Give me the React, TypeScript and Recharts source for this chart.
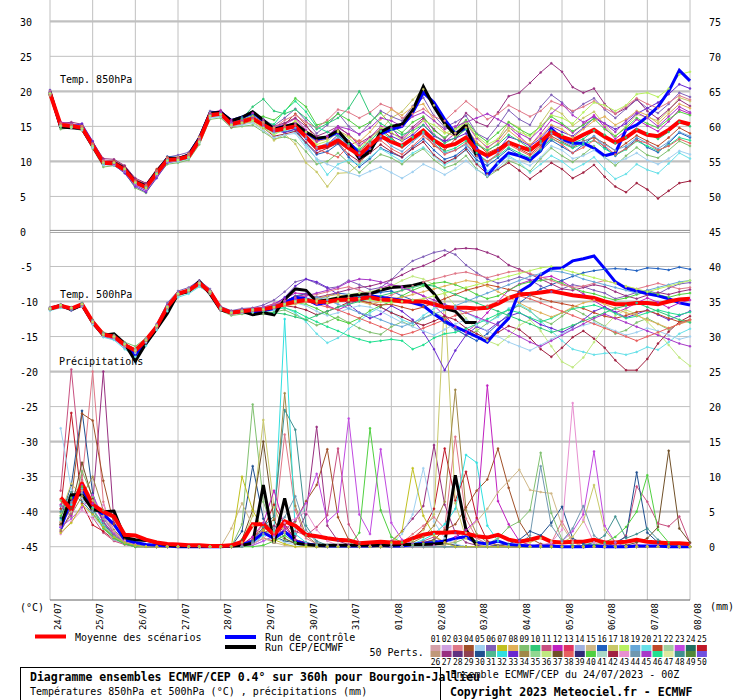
import React from 'react';
import { LineChart, Line, XAxis, YAxis, ReferenceLine } from 'recharts';

const FONT = '"DejaVu Sans Mono", "Liberation Mono", monospace';

// time axis: 24/07/2023 00Z + 0..360h, every 6h
const HOURS = [
  0, 6, 12, 18, 24, 30, 36, 42, 48, 54, 60, 66, 72, 78, 84, 90, 96, 102, 108, 114,
  120, 126, 132, 138, 144, 150, 156, 162, 168, 174, 180, 186, 192, 198, 204, 210, 216, 222, 228, 234,
  240, 246, 252, 258, 264, 270, 276, 282, 288, 294, 300, 306, 312, 318, 324, 330, 336, 342, 348, 354, 360,
];
const DAY_TICKS = [0, 24, 48, 72, 96, 120, 144, 168, 192, 216, 240, 264, 288, 312, 336, 360];
const DAY_LABELS = ['24/07', '25/07', '26/07', '27/07', '28/07', '29/07', '30/07', '31/07', '01/08', '02/08', '03/08', '04/08', '05/08', '06/08', '07/08', '08/08'];
const LEFT_TICKS = [30, 25, 20, 15, 10, 5, 0, -5, -10, -15, -20, -25, -30, -35, -40, -45];
const RIGHT_TICKS = [75, 70, 65, 60, 55, 50, 45, 40, 35, 30, 25, 20, 15, 10, 5, 0];

// Temp 850hPa (°C)
const T850_MEAN = [
  19.7, 15.2, 15.05, 14.8, 12.3, 9.8, 9.7, 8.8, 7.0, 6.3,
  8.3, 10.2, 10.3, 10.7, 13.0, 16.6, 16.8, 15.3, 15.7, 16.1,
  15.2, 14.4, 14.7, 15.0, 13.5, 11.9, 12.2, 13.0, 11.9, 10.9,
  12.3, 13.6, 12.8, 12.2, 13.3, 14.4, 13.0, 12.1, 12.5, 13.4,
  11.6, 10.8, 11.6, 12.7, 12.1, 11.6, 12.8, 14.2, 13.5, 13.0,
  13.8, 14.5, 13.5, 12.7, 13.4, 14.5, 13.8, 13.6, 14.5, 15.7, 15.3,
];
const T850_CTRL = [
  19.8, 15.0, 14.9, 14.7, 12.2, 9.7, 9.8, 9.0, 7.1, 6.5,
  8.5, 10.4, 10.4, 10.9, 13.3, 16.9, 17.0, 15.8, 16.3, 17.0,
  15.8, 14.6, 15.0, 15.3, 14.1, 13.2, 13.4, 14.2, 12.7, 11.2,
  11.6, 13.9, 14.6, 15.0, 17.0, 19.8, 18.4, 16.0, 14.0, 14.8,
  11.9, 8.0, 9.8, 11.2, 10.8, 10.2, 11.5, 14.7, 13.2, 12.6,
  12.6, 11.9, 10.8, 11.2, 14.5, 15.2, 16.4, 17.8, 20.0, 23.0, 21.5,
];
const T850_CEP = [
  20.0, 14.9, 14.8, 14.7, 12.2, 9.7, 9.8, 9.0, 7.1, 6.5,
  8.5, 10.4, 10.4, 10.9, 13.3, 16.9, 17.0, 15.8, 16.3, 17.1,
  15.9, 14.6, 15.0, 15.4, 14.2, 13.3, 13.5, 14.4, 12.6, 10.4,
  11.4, 14.2, 15.0, 15.3, 17.3, 20.7, 17.8, 15.4, 13.8, 15.2, 10.7,
];
const T850_MEMBERS = [
  [20.2, 15.0, 15.3, 15.2, 12.0, 9.5, 9.9, 9.2, 7.3, 6.6, 8.8, 10.6, 10.9, 11.3, 13.6, 17.2, 17.0, 15.0, 16.0, 16.8, 16.0, 15.1, 16.2, 17.5, 15.8, 14.0, 15.2, 16.9, 15.0, 13.8, 15.5, 17.2, 16.4, 15.8, 17.9, 19.1, 16.5, 14.9, 15.6, 16.5, 14.0, 13.2, 15.1, 17.3, 16.0, 15.2, 17.8, 19.5, 18.4, 17.0, 18.2, 19.0, 17.4, 16.2, 17.5, 18.8, 17.6, 16.9, 18.2, 19.8, 19.2],
  [19.4, 14.6, 14.8, 14.4, 11.8, 9.2, 9.4, 8.4, 6.2, 5.5, 7.8, 9.6, 9.8, 10.2, 12.4, 16.0, 16.2, 14.8, 15.0, 15.2, 14.2, 13.2, 13.5, 13.0, 11.4, 9.6, 10.0, 11.2, 9.8, 8.4, 9.8, 11.0, 10.5, 9.6, 10.9, 11.8, 10.2, 9.1, 9.6, 10.8, 8.9, 7.8, 8.8, 10.1, 9.5, 8.6, 10.4, 11.9, 10.8, 9.9, 11.0, 12.2, 10.6, 9.4, 10.8, 12.0, 10.9, 10.5, 11.6, 12.9, 12.2],
  [19.9, 15.6, 15.4, 15.0, 12.7, 10.2, 10.0, 9.0, 6.9, 6.0, 8.0, 10.0, 10.5, 11.0, 13.3, 16.9, 17.3, 15.9, 16.2, 16.9, 15.8, 14.9, 15.3, 16.1, 14.5, 12.9, 13.6, 14.8, 13.9, 12.2, 13.4, 15.0, 14.8, 13.1, 14.6, 15.9, 13.8, 12.8, 14.0, 15.5, 13.3, 12.0, 13.0, 14.9, 13.6, 12.2, 14.0, 15.9, 15.2, 14.1, 15.3, 16.6, 14.9, 13.2, 14.4, 16.0, 15.1, 14.3, 15.7, 17.4, 16.8],
  [19.6, 15.3, 15.0, 14.9, 12.5, 10.0, 9.8, 9.0, 7.2, 6.5, 8.6, 10.7, 10.6, 10.9, 13.4, 17.0, 17.1, 15.6, 16.3, 16.6, 15.4, 14.6, 14.2, 14.6, 12.6, 11.0, 11.4, 12.5, 10.6, 9.2, 10.4, 11.9, 11.2, 10.6, 12.0, 13.2, 11.6, 10.3, 10.8, 12.0, 10.2, 9.4, 10.5, 11.8, 10.9, 10.0, 11.5, 13.0, 12.1, 11.2, 12.4, 13.6, 12.0, 10.8, 11.9, 13.2, 12.0, 11.3, 12.6, 14.1, 13.4],
  [19.8, 15.1, 15.2, 14.6, 12.2, 9.9, 9.6, 8.6, 6.8, 6.2, 8.2, 10.0, 10.2, 10.8, 13.2, 16.4, 16.6, 15.2, 15.4, 15.6, 14.6, 13.0, 13.9, 12.5, 9.8, 8.5, 6.4, 8.3, 8.4, 9.6, 11.8, 14.5, 16.2, 17.1, 18.8, 20.3, 18.0, 15.2, 14.1, 15.8, 13.5, 11.8, 13.2, 15.6, 14.8, 13.0, 15.4, 17.6, 16.8, 15.1, 16.2, 17.1, 15.2, 13.6, 15.0, 16.7, 16.3, 15.8, 17.2, 19.1, 18.6],
  [19.5, 15.0, 14.9, 14.7, 12.1, 9.6, 9.4, 8.5, 6.6, 5.9, 8.0, 9.9, 10.0, 10.4, 12.7, 16.3, 16.4, 15.1, 15.5, 15.8, 14.9, 14.0, 14.4, 14.2, 12.4, 10.3, 8.1, 9.6, 10.2, 9.5, 10.6, 11.8, 10.9, 10.0, 11.2, 12.0, 10.8, 9.5, 10.4, 11.6, 9.8, 8.6, 9.7, 10.8, 9.9, 8.4, 9.6, 10.8, 10.0, 8.8, 9.6, 10.6, 8.9, 7.5, 8.2, 9.6, 8.8, 8.3, 9.7, 11.2, 10.4],
  [19.7, 15.5, 15.2, 15.1, 12.6, 10.0, 10.1, 9.3, 7.4, 6.8, 8.9, 10.6, 10.5, 11.1, 13.5, 16.7, 16.5, 14.9, 15.3, 15.9, 15.0, 14.2, 15.3, 16.8, 15.2, 13.0, 13.4, 14.2, 12.9, 11.5, 12.8, 14.6, 13.4, 12.0, 13.3, 14.1, 12.2, 11.6, 13.2, 14.8, 12.6, 11.2, 11.9, 12.8, 11.8, 11.0, 12.3, 13.6, 12.8, 12.0, 12.9, 13.4, 12.6, 11.5, 12.6, 13.7, 12.9, 12.2, 13.4, 14.8, 14.0],
  [19.9, 15.4, 15.6, 15.3, 12.8, 10.4, 10.3, 9.4, 7.6, 6.9, 8.5, 10.4, 10.4, 10.9, 13.1, 16.8, 17.2, 15.6, 16.0, 16.4, 15.7, 15.0, 15.5, 16.2, 15.0, 13.6, 14.2, 15.0, 13.8, 12.6, 13.5, 14.6, 14.0, 13.4, 14.9, 16.2, 14.6, 13.2, 14.8, 16.9, 15.6, 15.0, 17.0, 19.3, 19.8, 21.2, 22.7, 24.0, 22.8, 20.6, 19.8, 20.4, 18.2, 16.8, 17.6, 18.9, 17.2, 16.1, 17.4, 18.8, 17.9],
  [20.1, 15.1, 15.0, 15.4, 12.9, 10.1, 9.5, 8.3, 6.4, 5.6, 7.6, 9.8, 10.1, 10.5, 12.8, 16.5, 16.9, 15.4, 15.8, 16.3, 15.6, 14.5, 14.1, 14.6, 13.2, 11.6, 12.4, 13.8, 12.2, 10.6, 11.9, 13.2, 13.6, 12.9, 13.8, 15.2, 13.6, 12.9, 13.3, 14.0, 11.8, 10.6, 11.6, 13.5, 13.0, 12.2, 13.3, 15.0, 14.2, 13.6, 14.8, 16.2, 15.4, 14.6, 15.4, 16.8, 17.6, 18.4, 19.6, 21.0, 20.4],
  [19.6, 14.9, 15.3, 14.9, 12.4, 9.7, 9.9, 8.9, 7.1, 6.4, 8.4, 10.3, 10.4, 10.6, 12.9, 16.6, 16.7, 15.4, 15.9, 16.5, 16.4, 15.9, 17.1, 19.0, 17.8, 15.2, 15.6, 16.8, 15.9, 14.8, 15.6, 16.9, 15.2, 14.1, 15.6, 16.4, 14.4, 13.4, 14.6, 15.9, 13.9, 12.8, 14.1, 15.6, 14.6, 13.8, 15.0, 16.4, 15.4, 14.3, 15.2, 16.1, 14.6, 13.6, 14.8, 16.2, 15.4, 14.8, 16.0, 17.1, 16.6],
  [19.8, 15.3, 14.9, 14.6, 12.2, 9.9, 9.8, 8.7, 6.9, 6.1, 8.1, 10.1, 10.4, 10.8, 13.0, 16.6, 16.9, 15.4, 15.6, 15.9, 14.8, 13.6, 13.9, 14.3, 12.7, 11.2, 11.9, 12.6, 11.0, 10.0, 11.2, 12.4, 11.4, 10.6, 11.8, 12.8, 10.9, 9.8, 10.5, 11.7, 9.6, 8.2, 8.9, 9.8, 8.7, 7.5, 8.6, 9.8, 8.9, 7.6, 8.4, 9.5, 7.8, 6.4, 5.6, 6.9, 6.0, 4.7, 5.8, 6.9, 7.2],
  [19.7, 15.2, 15.1, 14.7, 12.3, 9.8, 9.7, 8.8, 7.0, 6.3, 8.3, 10.1, 10.2, 10.6, 13.1, 16.7, 16.8, 15.2, 15.7, 16.2, 15.5, 15.3, 17.2, 18.6, 17.1, 14.9, 14.2, 13.6, 12.5, 11.7, 13.0, 14.3, 13.2, 12.3, 13.5, 14.2, 12.9, 11.4, 11.9, 12.9, 11.2, 10.0, 10.8, 12.0, 11.2, 10.5, 11.8, 13.2, 12.6, 11.9, 12.5, 13.0, 11.8, 10.9, 11.7, 12.9, 12.2, 11.5, 12.3, 13.4, 13.0],
  [19.5, 15.4, 15.0, 14.9, 12.4, 9.9, 9.6, 8.7, 6.8, 6.0, 8.1, 10.2, 10.4, 10.6, 12.8, 16.4, 16.9, 15.5, 15.9, 16.0, 15.2, 14.8, 15.9, 16.6, 15.6, 14.8, 15.9, 17.4, 17.0, 16.2, 17.0, 18.2, 17.6, 16.2, 16.8, 17.5, 16.4, 15.8, 17.2, 18.6, 17.4, 16.0, 16.8, 18.0, 17.2, 16.4, 17.2, 18.6, 18.0, 17.2, 17.8, 18.6, 17.6, 16.8, 17.9, 19.0, 18.2, 17.6, 18.4, 19.4, 18.8],
  [19.6, 15.1, 14.8, 14.5, 12.0, 9.5, 9.5, 8.6, 6.7, 5.9, 8.0, 9.9, 10.1, 10.5, 12.7, 16.2, 16.4, 15.0, 15.2, 15.5, 14.4, 13.4, 13.8, 14.0, 12.0, 10.4, 9.6, 9.0, 8.4, 7.9, 8.6, 9.2, 8.4, 7.6, 8.5, 9.6, 8.9, 8.1, 9.0, 10.1, 8.8, 8.0, 9.1, 10.5, 10.0, 9.4, 10.6, 12.2, 11.6, 10.4, 10.8, 11.6, 10.5, 9.8, 10.4, 11.2, 10.2, 9.6, 10.4, 11.5, 11.0],
  [20.0, 15.3, 15.2, 15.0, 12.5, 10.1, 9.9, 9.0, 7.1, 6.5, 8.6, 10.5, 10.6, 11.0, 13.4, 16.9, 16.9, 15.3, 15.8, 16.4, 15.6, 14.8, 15.0, 15.6, 14.2, 12.8, 13.2, 14.4, 13.6, 12.8, 14.2, 16.0, 17.4, 16.6, 17.8, 18.2, 15.9, 14.2, 13.6, 14.8, 12.8, 11.4, 12.6, 14.4, 13.2, 12.4, 13.6, 15.2, 14.6, 13.4, 14.6, 15.8, 16.4, 15.2, 16.0, 17.2, 16.6, 15.4, 16.8, 18.2, 17.6],
  [19.8, 15.2, 15.1, 14.8, 12.4, 9.9, 9.8, 8.8, 7.0, 6.3, 8.3, 10.2, 10.3, 10.8, 13.1, 16.7, 16.8, 15.4, 16.1, 17.8, 18.9, 17.2, 16.8, 17.4, 16.2, 14.6, 15.4, 16.2, 17.6, 20.0, 16.8, 15.4, 14.6, 13.8, 14.4, 15.2, 13.8, 12.6, 13.4, 14.6, 12.4, 11.6, 12.4, 13.8, 12.9, 11.8, 12.9, 14.4, 13.8, 12.6, 13.2, 14.4, 13.8, 12.6, 13.4, 14.6, 14.0, 13.2, 14.2, 15.6, 15.0],
  [19.7, 15.0, 15.0, 14.7, 12.2, 9.7, 9.7, 8.8, 7.0, 6.4, 8.4, 10.3, 10.3, 10.6, 12.9, 16.6, 16.7, 15.3, 15.6, 15.9, 14.9, 14.2, 14.6, 14.8, 13.3, 12.0, 12.6, 13.4, 12.2, 11.2, 12.6, 13.6, 12.2, 11.4, 12.8, 14.0, 12.6, 11.2, 11.6, 12.4, 10.6, 9.8, 11.2, 12.6, 12.0, 11.4, 12.6, 14.0, 13.0, 12.2, 12.8, 13.6, 12.4, 11.6, 12.2, 13.4, 12.6, 11.8, 12.8, 14.2, 13.6],
  [19.9, 15.2, 15.3, 14.8, 12.3, 9.8, 9.6, 8.6, 6.6, 5.8, 7.9, 10.0, 10.4, 10.8, 13.2, 16.8, 17.0, 15.6, 15.8, 16.2, 15.0, 14.4, 14.9, 15.4, 14.1, 12.8, 13.6, 15.0, 14.6, 13.9, 14.8, 16.2, 15.8, 15.0, 16.4, 17.0, 15.8, 14.6, 15.0, 15.6, 16.2, 16.8, 16.0, 15.2, 14.0, 13.2, 14.6, 16.8, 18.2, 16.6, 15.6, 16.4, 15.4, 14.2, 15.8, 17.0, 16.2, 15.0, 16.4, 17.8, 17.0],
  [19.6, 15.4, 15.2, 14.9, 12.5, 10.0, 9.9, 9.0, 7.2, 6.6, 8.6, 10.5, 10.5, 10.9, 13.1, 16.5, 16.6, 15.2, 15.6, 16.0, 15.4, 14.6, 14.9, 15.2, 13.6, 11.8, 11.2, 10.6, 12.2, 13.0, 12.4, 13.0, 11.8, 11.0, 12.2, 13.6, 12.4, 11.0, 11.6, 12.6, 10.8, 10.0, 11.0, 12.4, 11.6, 10.8, 12.0, 13.4, 12.4, 11.2, 12.0, 13.0, 12.2, 11.0, 11.8, 13.0, 12.6, 11.6, 12.2, 13.2, 12.6],
  [19.7, 15.1, 14.9, 14.7, 12.2, 9.8, 9.8, 8.9, 7.0, 6.2, 8.2, 10.1, 10.2, 10.6, 12.8, 16.5, 16.7, 15.2, 15.5, 15.8, 14.8, 13.8, 14.6, 15.8, 14.2, 12.4, 12.9, 14.2, 13.4, 12.0, 13.2, 14.8, 14.2, 13.0, 14.2, 15.8, 15.2, 14.0, 14.6, 15.4, 13.6, 12.4, 13.2, 14.8, 14.2, 13.6, 15.0, 16.6, 16.2, 15.4, 17.0, 18.4, 18.0, 17.2, 18.0, 19.6, 19.8, 19.2, 20.4, 22.4, 22.8],
];
const T850_COLORS = ['#8060b8', '#80c070', '#c020c0', '#2060c0', '#c8c868', '#68e0e8', '#c04828', '#983080', '#6828d0', '#50d040', '#a02040', '#20e090', '#e07888', '#a0d0f0', '#e0b058', '#30c878', '#68a8d8', '#a838c8', '#e86060', '#b8f060'];

// Temp 500hPa (°C)
const T500_MEAN = [
  -11.0, -10.6, -11.0, -10.4, -12.9, -14.7, -15.0, -16.2, -17.0, -15.5,
  -13.6, -10.8, -8.9, -8.4, -7.4, -8.6, -11.0, -11.6, -11.4, -11.2,
  -11.1, -10.8, -10.4, -10.0, -9.8, -10.1, -10.0, -9.8, -9.7, -9.6,
  -9.4, -9.7, -9.8, -10.0, -10.0, -10.0, -10.4, -10.8, -10.9, -10.9,
  -11.0, -10.9, -10.3, -9.5, -9.0, -8.9, -8.7, -8.5, -8.8, -9.1,
  -9.3, -9.5, -10.0, -10.4, -10.4, -10.2, -10.2, -10.4, -10.0, -9.7, -9.6,
];
const T500_CTRL = [
  -11.0, -10.6, -11.1, -10.5, -12.9, -14.8, -14.9, -16.1, -17.6, -15.8,
  -13.8, -11.2, -8.9, -8.5, -7.2, -8.8, -11.1, -11.6, -11.4, -11.6,
  -11.3, -11.0, -10.2, -9.4, -9.6, -10.4, -10.1, -9.6, -9.4, -9.8,
  -9.2, -9.4, -9.6, -9.8, -10.2, -10.6, -11.8, -12.8, -13.6, -14.3,
  -15.0, -15.8, -14.0, -12.4, -8.6, -7.7, -6.2, -5.3, -5.2, -4.2,
  -3.9, -3.5, -5.3, -7.2, -8.1, -8.5, -8.9, -9.2, -9.6, -10.2, -10.5,
];
const T500_CEP = [
  -11.1, -10.5, -11.2, -10.5, -13.0, -14.8, -14.6, -16.0, -18.5, -16.0,
  -13.9, -11.7, -8.9, -8.6, -7.1, -8.9, -11.2, -11.6, -11.4, -11.9,
  -11.6, -11.9, -9.7, -8.2, -8.4, -10.0, -9.8, -9.5, -9.2, -9.0,
  -8.9, -8.4, -8.0, -7.9, -7.7, -7.3, -8.9, -11.0, -11.4, -13.0, -13.0,
];
const T500_MEMBERS = [
  [-10.8, -10.4, -11.3, -10.6, -13.2, -14.5, -15.3, -16.6, -17.4, -15.9, -13.2, -10.2, -8.5, -8.0, -7.0, -8.2, -10.7, -11.3, -11.0, -10.9, -10.5, -9.8, -8.6, -7.2, -6.8, -7.4, -8.1, -7.9, -7.0, -7.6, -8.3, -8.0, -6.9, -5.4, -4.2, -3.6, -3.0, -2.7, -3.3, -4.8, -5.9, -6.8, -7.4, -7.0, -6.5, -6.9, -7.8, -8.6, -8.2, -7.6, -7.9, -8.4, -8.8, -9.6, -9.2, -8.7, -8.4, -8.9, -8.1, -7.5, -7.3],
  [-11.2, -10.8, -10.9, -10.2, -12.6, -14.4, -14.8, -15.8, -16.4, -15.2, -13.9, -11.2, -9.2, -8.7, -7.8, -8.9, -11.3, -12.0, -11.8, -11.6, -11.8, -11.5, -11.2, -11.9, -12.6, -13.4, -12.9, -12.2, -13.0, -13.8, -14.4, -14.7, -13.6, -12.9, -13.5, -12.4, -11.6, -12.3, -13.8, -14.9, -14.2, -13.1, -12.0, -11.2, -10.6, -11.4, -12.6, -13.2, -12.1, -11.0, -11.8, -12.7, -13.5, -14.6, -14.1, -13.0, -12.4, -13.2, -14.0, -13.1, -12.6],
  [-11.0, -10.7, -10.8, -10.5, -13.1, -15.0, -15.4, -16.4, -16.9, -15.3, -13.4, -10.6, -8.8, -8.3, -7.5, -8.7, -11.2, -11.8, -11.6, -11.0, -10.8, -10.3, -9.6, -8.8, -8.9, -9.8, -10.6, -11.2, -10.5, -9.6, -8.8, -8.1, -7.6, -7.9, -8.5, -9.2, -10.6, -12.0, -13.6, -14.4, -13.2, -11.6, -10.0, -8.4, -7.5, -7.0, -6.6, -6.4, -7.1, -8.0, -8.9, -9.9, -10.8, -11.6, -11.0, -10.2, -9.5, -10.1, -10.9, -10.2, -9.8],
  [-11.1, -10.5, -11.1, -10.3, -12.8, -14.9, -15.2, -16.3, -17.2, -15.7, -13.8, -11.0, -9.0, -8.6, -7.6, -8.5, -10.9, -11.5, -11.5, -11.4, -11.0, -10.6, -10.0, -9.2, -8.9, -9.5, -9.3, -8.8, -9.0, -9.4, -9.0, -8.7, -8.5, -9.2, -9.8, -10.6, -11.8, -13.0, -14.0, -14.8, -15.6, -14.6, -13.2, -11.8, -10.2, -9.1, -8.2, -7.6, -7.0, -6.4, -5.9, -5.6, -5.4, -5.3, -5.4, -5.6, -5.2, -5.3, -5.5, -5.1, -5.4],
  [-11.3, -10.9, -11.2, -10.7, -13.3, -15.1, -15.5, -16.8, -17.9, -16.3, -14.1, -11.4, -9.4, -8.9, -7.9, -8.8, -11.1, -11.7, -11.6, -11.5, -11.3, -11.2, -10.9, -11.6, -12.9, -14.6, -15.9, -15.2, -13.9, -12.8, -11.6, -10.8, -11.5, -12.6, -13.2, -12.0, -11.0, -10.4, -10.9, -11.6, -12.4, -13.0, -12.2, -11.0, -10.4, -11.3, -12.8, -14.2, -15.6, -16.8, -17.2, -17.6, -17.4, -17.3, -17.6, -17.2, -16.5, -16.9, -15.8, -14.6, -13.9],
  [-10.9, -10.5, -10.9, -10.3, -12.7, -14.6, -14.9, -16.0, -16.8, -15.4, -13.5, -10.7, -8.8, -8.3, -7.3, -8.5, -10.8, -11.4, -11.2, -11.0, -10.9, -10.4, -9.9, -9.3, -9.0, -9.4, -9.1, -8.7, -8.3, -8.0, -7.8, -7.4, -6.9, -6.2, -5.4, -4.9, -4.2, -3.4, -2.5, -2.4, -2.5, -3.0, -3.6, -4.8, -5.4, -6.1, -6.8, -7.5, -8.2, -8.4, -8.0, -7.6, -7.9, -8.6, -9.2, -9.6, -9.1, -8.7, -9.0, -8.6, -8.3],
  [-11.0, -10.6, -11.2, -10.6, -13.0, -14.8, -15.1, -16.1, -17.1, -15.6, -13.7, -10.9, -9.0, -8.5, -7.4, -8.6, -11.0, -11.5, -11.3, -11.1, -11.0, -10.5, -9.4, -7.8, -6.8, -7.2, -8.0, -9.0, -10.4, -11.6, -12.4, -11.8, -10.6, -11.4, -12.6, -14.4, -16.8, -19.8, -17.0, -14.8, -13.6, -14.2, -13.0, -12.1, -11.6, -12.4, -13.3, -13.8, -14.4, -13.6, -12.6, -11.4, -10.8, -11.5, -12.3, -11.8, -11.2, -11.9, -12.6, -12.0, -11.4],
  [-11.1, -10.7, -10.9, -10.4, -12.9, -14.6, -15.0, -16.3, -17.1, -15.4, -13.6, -10.9, -9.0, -8.4, -7.5, -8.7, -11.1, -11.7, -11.5, -11.3, -11.2, -10.9, -10.6, -10.8, -11.2, -11.9, -11.4, -10.8, -10.1, -9.9, -10.2, -10.8, -11.6, -12.2, -12.9, -13.4, -12.8, -12.1, -12.6, -13.8, -14.6, -15.3, -14.4, -13.5, -14.0, -15.2, -16.8, -17.9, -16.6, -15.1, -14.2, -15.3, -16.6, -18.4, -19.8, -19.8, -18.2, -16.0, -14.3, -12.9, -12.1],
  [-10.9, -10.5, -11.0, -10.4, -12.9, -14.7, -15.0, -16.1, -16.8, -15.3, -13.4, -10.7, -8.8, -8.2, -7.3, -8.5, -10.9, -11.5, -11.3, -11.1, -11.0, -10.7, -10.3, -9.9, -9.6, -9.8, -9.6, -9.3, -9.0, -8.8, -8.6, -8.2, -7.8, -7.0, -6.4, -6.8, -7.6, -8.8, -10.6, -12.4, -14.0, -15.6, -16.2, -15.0, -13.4, -12.6, -14.2, -16.4, -18.6, -19.4, -18.0, -15.8, -13.6, -12.0, -11.2, -11.8, -12.9, -14.4, -16.2, -18.0, -19.2],
  [-11.0, -10.6, -10.9, -10.3, -12.8, -14.6, -15.1, -16.2, -16.9, -15.4, -13.6, -10.8, -8.9, -8.4, -7.4, -8.6, -10.9, -11.6, -11.4, -11.3, -11.0, -10.7, -10.5, -10.2, -10.4, -11.0, -11.8, -12.6, -13.1, -12.4, -11.3, -10.6, -10.0, -9.2, -8.4, -7.8, -7.4, -7.2, -7.6, -8.2, -9.0, -9.6, -9.2, -8.4, -7.6, -7.2, -7.0, -6.8, -7.4, -8.1, -8.6, -8.9, -9.4, -9.8, -9.5, -9.0, -8.6, -9.0, -9.4, -9.0, -8.8],
  [-11.0, -10.5, -11.0, -10.5, -12.9, -14.8, -15.0, -16.2, -17.0, -15.5, -13.5, -10.7, -8.8, -8.4, -7.4, -8.6, -11.0, -11.6, -11.4, -11.2, -11.0, -10.8, -10.6, -10.2, -9.9, -10.2, -10.3, -10.0, -9.8, -9.9, -10.2, -10.5, -10.4, -10.8, -11.2, -10.8, -10.2, -9.6, -9.0, -8.4, -8.0, -7.6, -7.9, -8.3, -8.6, -9.1, -9.6, -10.0, -10.3, -10.6, -11.0, -11.6, -12.1, -12.4, -12.0, -11.5, -11.3, -11.8, -12.4, -12.9, -12.6],
  [-11.1, -10.6, -11.0, -10.4, -12.9, -14.7, -15.0, -16.3, -17.1, -15.6, -13.6, -10.8, -8.9, -8.4, -7.5, -8.7, -11.0, -11.6, -11.4, -11.2, -11.2, -11.0, -10.9, -11.4, -12.2, -12.9, -13.6, -14.2, -14.9, -15.4, -15.8, -15.6, -15.4, -15.6, -16.8, -16.2, -15.2, -14.6, -14.4, -13.9, -13.2, -12.5, -11.8, -11.2, -11.6, -12.3, -12.9, -12.4, -11.6, -11.0, -10.8, -10.5, -11.0, -11.7, -12.4, -12.1, -11.6, -11.2, -11.6, -11.9, -11.5],
  [-10.9, -10.5, -10.9, -10.4, -12.8, -14.6, -15.0, -16.1, -16.9, -15.4, -13.5, -10.7, -8.8, -8.3, -7.3, -8.5, -10.9, -11.5, -11.3, -11.1, -10.9, -10.4, -9.9, -9.5, -9.2, -9.0, -8.6, -8.2, -7.9, -8.4, -9.0, -9.6, -9.1, -8.4, -7.8, -7.2, -6.8, -6.4, -6.0, -5.8, -6.2, -6.6, -6.2, -5.8, -5.6, -6.0, -6.5, -7.0, -7.6, -8.0, -7.8, -7.4, -7.0, -7.4, -7.9, -8.2, -7.8, -7.4, -7.8, -8.2, -8.0],
  [-11.2, -10.7, -11.1, -10.6, -13.1, -14.9, -15.2, -16.4, -17.3, -15.8, -13.8, -11.0, -9.1, -8.6, -7.6, -8.8, -11.2, -11.8, -11.6, -11.4, -11.3, -11.0, -10.6, -10.2, -10.6, -11.4, -12.0, -11.6, -11.0, -10.6, -10.8, -11.4, -12.2, -13.0, -13.6, -14.2, -14.8, -14.0, -13.2, -12.6, -13.4, -14.2, -15.0, -15.8, -16.4, -17.0, -16.2, -15.4, -14.6, -13.9, -13.4, -13.0, -13.6, -14.2, -14.8, -14.4, -13.8, -14.2, -14.8, -15.4, -15.0],
  [-11.0, -10.6, -11.0, -10.4, -12.9, -14.7, -15.1, -16.2, -17.0, -15.5, -13.6, -10.8, -8.9, -8.4, -7.4, -8.6, -11.0, -11.6, -11.4, -11.2, -11.1, -10.8, -10.6, -10.4, -10.0, -9.6, -9.2, -9.0, -9.4, -10.0, -10.4, -10.0, -9.6, -9.4, -9.0, -8.6, -8.2, -7.8, -7.4, -7.0, -7.2, -7.8, -8.6, -9.4, -10.2, -11.0, -11.6, -12.2, -11.6, -10.8, -10.2, -9.8, -10.4, -11.0, -11.6, -12.0, -12.6, -13.2, -13.8, -13.2, -12.8],
  [-11.1, -10.6, -11.1, -10.5, -13.0, -14.8, -15.1, -16.2, -17.1, -15.6, -13.7, -10.9, -9.0, -8.5, -7.5, -8.7, -11.1, -11.7, -11.5, -11.3, -11.4, -11.6, -11.8, -12.2, -12.6, -12.0, -11.4, -10.8, -10.4, -10.0, -9.6, -9.2, -8.8, -8.4, -8.0, -7.6, -7.8, -8.4, -9.0, -9.6, -10.2, -10.8, -11.4, -12.0, -12.6, -13.2, -13.8, -14.4, -14.0, -13.4, -12.8, -12.2, -11.6, -11.0, -10.6, -10.2, -10.8, -11.4, -12.0, -12.6, -13.0],
  [-10.9, -10.5, -11.0, -10.3, -12.8, -14.6, -14.9, -16.0, -16.9, -15.4, -13.5, -10.7, -8.8, -8.3, -7.3, -8.5, -10.9, -11.5, -11.3, -11.1, -10.9, -10.6, -10.2, -9.8, -9.6, -9.4, -9.8, -10.4, -11.0, -11.6, -12.0, -12.6, -13.2, -13.6, -13.0, -12.4, -11.8, -11.2, -10.6, -10.0, -9.4, -8.8, -8.2, -7.6, -7.0, -6.4, -6.0, -5.6, -5.8, -6.2, -6.8, -7.2, -7.6, -8.0, -8.4, -8.8, -8.4, -8.0, -7.6, -7.2, -7.0],
  [-11.0, -10.6, -11.0, -10.5, -12.9, -14.7, -15.0, -16.2, -17.0, -15.5, -13.6, -10.8, -8.9, -8.4, -7.4, -8.6, -11.0, -11.6, -11.4, -11.2, -11.0, -10.6, -10.0, -9.6, -9.2, -8.8, -8.4, -8.0, -7.2, -6.8, -6.9, -7.2, -7.6, -8.0, -8.6, -9.2, -9.8, -10.4, -11.0, -11.6, -12.2, -12.8, -13.4, -14.2, -15.0, -15.8, -16.4, -15.6, -14.8, -14.0, -13.2, -12.4, -11.8, -12.4, -13.0, -13.6, -14.2, -14.8, -15.4, -16.0, -16.4],
  [-11.1, -10.7, -11.0, -10.4, -13.0, -14.8, -15.1, -16.3, -17.1, -15.6, -13.7, -10.9, -9.0, -8.5, -7.5, -8.7, -11.1, -11.7, -11.5, -11.3, -11.2, -10.9, -10.5, -10.2, -10.0, -10.4, -10.8, -11.2, -11.8, -12.4, -13.0, -13.6, -14.2, -14.8, -14.4, -13.8, -13.2, -12.6, -12.0, -11.6, -11.2, -10.6, -10.0, -9.6, -9.2, -9.6, -10.2, -10.8, -11.4, -12.0, -12.6, -13.2, -13.8, -14.4, -15.0, -15.6, -15.0, -14.4, -13.8, -13.2, -12.6],
  [-11.0, -10.5, -10.9, -10.4, -12.9, -14.7, -15.0, -16.1, -17.0, -15.5, -13.5, -10.8, -8.9, -8.4, -7.4, -8.6, -11.0, -11.6, -11.4, -11.2, -11.1, -10.8, -10.4, -10.0, -9.8, -10.0, -10.2, -10.0, -9.8, -9.6, -9.8, -10.0, -10.2, -10.0, -9.8, -9.6, -9.2, -8.8, -8.4, -8.0, -7.6, -7.2, -6.8, -6.4, -6.0, -5.6, -5.2, -5.0, -5.4, -5.8, -6.2, -6.6, -7.0, -7.4, -7.8, -8.2, -8.6, -8.2, -7.8, -7.4, -7.0],
];
const T500_COLORS = ['#8060b8', '#80c070', '#c020c0', '#2060c0', '#68e0e8', '#983080', '#6828d0', '#a02040', '#c0e880', '#50d040', '#c04828', '#20e090', '#e07888', '#a0d0f0', '#e0b058', '#30c878', '#68a8d8', '#a838c8', '#e86060', '#b8f060'];

// Precipitation (mm / 6h), first value is the analysis (none)
const PRECIP_MEAN = [
  null, 7.0, 5.3, 9.0, 6.0, 5.0, 4.3, 1.7, 1.6, 1.0,
  0.6, 0.4, 0.3, 0.2, 0.2, 0.1, 0.1, 0.2, 0.7, 3.2,
  3.2, 1.7, 3.6, 3.0, 1.7, 1.5, 1.2, 1.0, 0.9, 0.5,
  0.6, 0.7, 0.6, 0.6, 1.2, 1.7, 2.0, 2.0, 2.1, 1.9,
  1.5, 1.3, 1.7, 1.0, 0.7, 1.0, 1.4, 0.7, 0.6, 0.7,
  0.7, 1.0, 0.6, 0.6, 0.7, 1.0, 0.7, 0.6, 0.5, 0.5, 0.4,
];
const PRECIP_CTRL = [
  null, 2.6, 6.8, 8.2, 5.8, 4.6, 3.2, 1.0, 0.6, 0.3,
  0.2, 0.1, 0, 0, 0, 0, 0, 0.1, 0.3, 0.8,
  2.0, 1.2, 2.2, 0.8, 0.4, 0.2, 0.1, 0.1, 0.1, 0.1,
  0.1, 0.2, 0.1, 0.1, 0.3, 0.5, 0.6, 0.8, 1.2, 1.4,
  0.6, 0.4, 0.8, 0.3, 0.2, 0.1, 0.1, 0.1, 0, 0,
  0, 0.1, 0, 0, 0, 0.1, 0.1, 0.1, 0, 0, 0,
];
const PRECIP_CEP = [
  null, 3.0, 7.4, 7.4, 5.3, 5.0, 5.1, 1.3, 1.0, 0.9,
  0.6, 0.2, 0.1, 0.1, 0.1, 0.1, 0.1, 0.1, 0.2, 0.5,
  8.8, 0.5, 6.9, 0.5, 0.3, 0.2, 0.2, 0.2, 0.2, 0.2,
  0.2, 0.2, 0.2, 0.3, 0.3, 0.3, 0.4, 0.5, 10.2, 2.4, 0.2,
];
const PRECIP_MEMBERS = [
  [null, 8.0, 25.3, 9.5, 4.2, 2.0, 0.8, 0.3, 0, 0, 0, 0, 0, 0, 0, 0, 0, 0, 0.2, 1.1, 2.4, 1.2, 3.0, 2.2, 1.6, 2.8, 4.5, 14.0, 3.2, 0.6, 0.2, 0, 0, 0, 0.3, 0.8, 1.4, 0.6, 0.2, 0, 0, 0, 0.2, 0, 0, 0, 0.4, 0.2, 0, 0, 0, 0.2, 0.4, 0.2, 1.6, 8.6, 6.4, 3.3, 2.9, 4.3, 0.5],
  [null, 3.0, 6.2, 9.4, 25.0, 6.4, 1.2, 0.4, 0, 0, 0, 0, 0, 0, 0, 0, 0, 0, 0, 0.8, 3.4, 2.0, 16.0, 5.2, 1.2, 0.4, 0.2, 0, 0, 0, 0, 0, 0, 0.6, 1.8, 3.0, 4.2, 2.6, 15.7, 4.0, 1.2, 0.4, 0, 0, 0, 0, 0, 0.6, 3.6, 0.8, 0, 0, 0, 0, 0, 0.3, 0, 0, 0, 0, 0],
  [null, 2.2, 5.0, 8.4, 6.1, 25.0, 3.4, 0.6, 0.2, 0, 0, 0, 0, 0, 0, 0, 0, 0, 0, 0.6, 1.8, 3.0, 2.2, 1.5, 4.6, 17.1, 3.0, 0.8, 0.3, 0, 0, 0.2, 0.8, 2.2, 4.0, 5.8, 14.5, 6.0, 2.0, 0.6, 0.2, 0, 0, 0, 0, 0, 0, 0, 0, 0, 0, 0, 0, 0, 0, 0, 0, 0, 0, 0, 0],
  [null, 5.4, 19.1, 6.2, 3.1, 2.2, 1.0, 0.4, 0, 0, 0, 0, 0, 0, 0, 0, 0, 0, 0.3, 1.4, 2.6, 6.0, 3.2, 1.0, 0.6, 0.2, 0, 0, 0, 0, 0, 0, 0, 0.4, 1.2, 2.5, 5.4, 14.0, 6.6, 10.7, 4.1, 0.8, 0.2, 0, 0, 0, 0, 0, 0, 0, 0, 0, 0, 0, 0, 0, 0, 0, 0, 0, 0],
  [null, 4.1, 8.8, 19.4, 7.6, 3.3, 1.5, 0.6, 0.2, 0, 0, 0, 0, 0, 0, 0, 0, 0, 2.2, 11.5, 4.0, 1.5, 0.8, 0.6, 0.3, 0, 0, 0, 0, 0, 0, 0, 0, 0, 0.2, 0.5, 1.0, 0.4, 0.2, 0, 0, 0, 0.2, 0.4, 1.0, 2.2, 1.6, 3.4, 5.7, 1.2, 0.4, 0.2, 0, 0.6, 1.4, 10.6, 2.0, 0.6, 0.2, 0, 0],
  [null, 3.5, 6.8, 19.0, 18.0, 9.4, 3.2, 1.0, 0.3, 0, 0, 0, 0, 0, 0, 0, 0, 0, 0, 0.4, 1.2, 0.8, 2.5, 3.6, 6.5, 8.8, 13.9, 4.2, 1.0, 0.4, 0, 0, 0, 0, 0.2, 0.6, 1.0, 2.4, 3.2, 5.6, 8.0, 9.6, 14.0, 8.4, 3.6, 1.2, 0.4, 0, 0, 0, 0, 0, 0, 0, 0, 0, 0, 0, 0, 0, 0],
  [null, 16.9, 8.2, 6.9, 4.4, 2.6, 1.0, 0.4, 0, 0, 0, 0, 0, 0, 0, 0, 0, 0, 0, 0.2, 0.8, 1.4, 0.6, 0.3, 0, 0, 0, 0, 0, 0, 0, 0, 0.4, 1.8, 4.6, 11.2, 3.6, 1.2, 0.4, 0, 0, 0, 0, 0, 0, 0, 0, 0, 0, 0, 0, 0, 0, 0, 0, 0, 0, 0, 0, 0, 0],
  [null, 6.6, 4.2, 10.8, 7.1, 4.0, 2.0, 0.6, 0.2, 0, 0, 0, 0, 0, 0, 0, 0, 0, 3.2, 20.3, 6.4, 2.2, 1.0, 0.6, 0.2, 0, 0, 0, 0, 0, 0, 0, 0, 0, 0, 0.4, 0.8, 0.4, 0.6, 1.2, 0.8, 0.4, 1.2, 2.8, 3.6, 5.2, 13.4, 4.8, 1.0, 0.2, 0, 0, 0, 0, 0, 0, 0, 0, 0, 0, 0],
  [null, 4.8, 9.0, 7.2, 5.4, 3.1, 1.3, 0.4, 0, 0, 0, 0, 0, 0, 0, 0, 0, 0, 0.6, 4.4, 18.1, 5.6, 2.0, 1.0, 0.4, 0, 0, 0, 0, 0, 0, 0, 0, 0, 0.8, 2.4, 4.6, 36.0, 6.2, 1.2, 0.4, 0, 0, 0, 0.2, 0.6, 1.2, 0.8, 0.6, 1.4, 3.6, 8.8, 2.4, 0.6, 0.2, 0, 0, 0, 0, 0, 0],
  [null, 3.2, 5.5, 12.0, 6.8, 3.6, 1.6, 0.5, 0.2, 0, 0, 0, 0, 0, 0, 0, 0, 0, 1.0, 5.2, 15.0, 3.8, 1.2, 0.4, 0.2, 0, 0, 0, 0, 0, 0, 0, 0, 0, 0, 0, 0, 0, 0, 0, 0, 0, 0, 0, 0, 0, 0, 0, 0, 0, 0, 0, 0, 0, 0.2, 0.6, 1.2, 2.8, 13.7, 2.6, 0.6],
  [null, 2.4, 4.6, 7.2, 10.0, 5.2, 2.4, 0.8, 0.2, 0, 0, 0, 0, 0, 0, 0, 0, 0, 0, 0.6, 2.2, 4.0, 21.9, 5.8, 1.6, 0.4, 0, 0, 0, 0, 0, 0, 0, 0, 0.6, 1.4, 3.0, 6.4, 22.4, 5.2, 1.8, 0.6, 0.2, 0, 0, 0, 0, 0, 0, 0, 0, 0, 0, 0, 0, 0, 0, 0, 0, 0, 0],
  [null, 3.8, 6.0, 8.3, 5.6, 3.0, 1.4, 0.6, 0.2, 0, 0, 0, 0, 0, 0, 0, 0, 0, 0, 0.4, 1.6, 2.4, 32.5, 1.8, 0.6, 0.2, 0, 0, 0, 0, 0, 0, 0, 0, 0.4, 1.0, 1.8, 3.2, 5.4, 13.1, 12.0, 3.0, 0.8, 0.2, 0, 0, 0, 0, 0, 0, 0, 0, 0, 0, 0, 0, 0, 0, 0, 0, 0],
  [null, 5.0, 7.8, 6.4, 4.8, 2.8, 1.2, 0.4, 0, 0, 0, 0, 0, 0, 0, 0, 0, 0, 0, 0.8, 2.8, 4.4, 19.5, 16.7, 3.0, 0.8, 0.2, 0, 0, 0, 0, 0, 0, 0, 0, 0, 0, 0, 0, 0, 0, 0, 0, 0, 0, 0, 0, 0, 0, 0, 0.2, 0.6, 1.6, 4.3, 1.2, 1.8, 2.6, 1.0, 0.2, 0, 0],
  [null, 6.0, 4.4, 8.8, 6.2, 3.6, 1.8, 0.6, 0.2, 0, 0, 0, 0, 0, 0, 0, 0, 0, 0.2, 1.4, 3.4, 8.0, 2.8, 1.0, 0.4, 0, 0, 0, 0, 0, 0, 0, 0, 0, 0, 0, 0.2, 0.6, 1.4, 2.4, 3.8, 23.0, 6.5, 3.2, 0.8, 0.2, 0, 0, 0, 0, 0, 0, 0, 0, 0, 0, 0, 0, 0, 0, 0],
  [null, 2.8, 4.0, 5.6, 7.4, 4.2, 2.0, 0.8, 0.3, 0, 0, 0, 0, 0, 0, 0, 0, 0, 0, 0.2, 0.8, 1.6, 2.4, 3.8, 6.2, 10.4, 3.6, 5.0, 18.3, 4.6, 1.8, 13.9, 3.4, 1.0, 0.4, 0, 0, 0, 0, 0, 0, 0, 0, 0, 0, 0, 0, 0.2, 0.8, 2.2, 4.6, 13.6, 3.0, 0.6, 0, 0, 0, 0, 0, 0, 0],
  [null, 1.8, 3.6, 5.2, 4.0, 6.0, 2.2, 0.8, 0.2, 0, 0, 0, 0, 0, 0, 0, 0, 0, 0, 0.4, 1.2, 2.6, 3.4, 4.0, 5.0, 2.4, 0.8, 0.2, 0, 0, 0, 0, 0, 0, 0, 0, 0, 0, 0, 0, 0, 0, 0, 0, 0, 0, 0.2, 0.6, 2.4, 20.5, 3.8, 0.6, 0, 0, 0, 0, 0, 0, 0, 0, 0],
  [null, 4.4, 7.0, 8.6, 5.4, 2.6, 1.2, 0.4, 0, 0, 0, 0, 0, 0, 0, 0, 0, 0, 0, 0, 0.2, 0.8, 1.6, 0.6, 0.2, 0, 0, 0, 0, 2.0, 16.9, 5.2, 1.4, 0.6, 0.2, 0, 0, 0, 0, 0, 0, 0, 0, 0, 0, 0, 0, 0, 0, 0, 0, 0.2, 0.6, 1.4, 2.8, 5.0, 10.2, 2.4, 0.6, 0, 0],
  [null, 3.6, 5.0, 8.0, 6.6, 4.4, 2.2, 0.6, 0.2, 0, 0, 0, 0, 0, 0, 0, 0, 2.6, 6.2, 3.0, 1.2, 0.6, 0.2, 0, 0, 0, 0, 0, 0, 0, 0, 0, 0, 0, 0, 0, 0, 0.2, 0.8, 2.0, 3.6, 5.4, 7.8, 9.4, 11.0, 8.1, 7.8, 7.6, 3.0, 0.6, 0, 0, 0, 0, 0, 0, 0, 0, 0, 0, 0],
  [null, 5.8, 6.4, 7.6, 5.2, 3.4, 1.6, 0.6, 0.2, 0, 0, 0, 0, 0, 0, 0, 0, 0, 0, 0.6, 1.8, 2.6, 4.2, 7.2, 2.4, 0.6, 0, 0, 0, 0, 0, 0, 0, 0, 0, 0, 0, 0, 0, 0, 0, 0, 0, 0, 0.4, 1.6, 11.5, 3.0, 0.8, 2.6, 5.8, 1.6, 0.4, 0, 0, 0, 0, 0, 0, 0, 0],
  [null, 2.0, 3.4, 6.0, 4.6, 2.8, 1.4, 0.6, 0.2, 0, 0, 0, 0, 0, 0, 0, 0, 0, 10.0, 5.2, 2.4, 1.0, 0.4, 0, 0, 0, 0, 0, 0, 0, 0, 0, 0.6, 2.2, 11.2, 4.4, 1.6, 0.6, 0, 0, 0, 0, 0, 0, 0, 0, 0, 0, 0, 0, 0, 0, 0, 0, 0, 0, 0, 0, 0, 0, 0],
];
const PRECIP_COLORS = ['#c85080', '#e07888', '#983080', '#c01828', '#205090', '#a05028', '#a0d0f0', '#80c070', '#c8c868', '#705028', '#a08848', '#30e0e0', '#409090', '#c020c0', '#c048e0', '#e890d0', '#50d040', '#d0b888', '#7098b0', '#c0c020'];

// legend colour boxes, members 01-25 (top) and 26-50 (bottom)
const PERT_TOP = ['#d4a0a8', '#d0a0e0', '#e07888', '#a05028', '#a0d0f0', '#8060b8', '#c0c020', '#e0b058', '#80c070', '#30c878', '#c85080', '#c020c0', '#e03060', '#a0b0e0', '#d0b888', '#2060c0', '#c8c868', '#b8f060', '#68a8d8', '#68e0e8', '#c04828', '#a0d0a0', '#c048e0', '#207060', '#c01828'];
const PERT_BOTTOM = ['#c0987a', '#983080', '#603080', '#904050', '#205090', '#50b890', '#30e0e0', '#6828d0', '#a08848', '#90d890', '#c0e880', '#705028', '#e86060', '#302878', '#50d040', '#a8d8c8', '#a02040', '#e890d0', '#7098b0', '#a838c8', '#20e090', '#e0e8a0', '#409090', '#508838', '#7050e0'];

const rows = HOURS.map((t, i) => {
  const r: Record<string, number | null> = { t };
  T850_MEMBERS.forEach((s, k) => (r[`a${k}`] = s[i]));
  T500_MEMBERS.forEach((s, k) => (r[`b${k}`] = s[i]));
  PRECIP_MEMBERS.forEach((s, k) => (r[`p${k}`] = s[i]));
  r.a_mean = T850_MEAN[i];
  r.a_ctrl = T850_CTRL[i];
  r.a_cep = i < T850_CEP.length ? T850_CEP[i] : null;
  r.b_mean = T500_MEAN[i];
  r.b_ctrl = T500_CTRL[i];
  r.b_cep = i < T500_CEP.length ? T500_CEP[i] : null;
  r.p_mean = PRECIP_MEAN[i];
  r.p_ctrl = PRECIP_CTRL[i];
  r.p_cep = i < PRECIP_CEP.length ? PRECIP_CEP[i] : null;
  return r;
});

const LeftTick = (props: any) => (
  <text x={20} y={props.y + 1} dominantBaseline="central" fontFamily={FONT} fontSize={10} fill="#000">
    {props.payload.value}
  </text>
);
const RightTick = (props: any) => (
  <text x={709} y={props.y + 1} dominantBaseline="central" fontFamily={FONT} fontSize={10} fill="#000">
    {props.payload.value}
  </text>
);
const DayTick = (props: any) => {
  const x = props.x + 10.5;
  const label = DAY_LABELS[DAY_TICKS.indexOf(props.payload.value)];
  return (
    <text x={x} y={603} transform={`rotate(-90, ${x}, 603)`} textAnchor="end" fontFamily={FONT} fontSize={9} fill="#000">
      {label}
    </text>
  );
};

const memberLine = (key: string, color: string, axis: string) => (
  <Line
    key={key}
    yAxisId={axis}
    dataKey={key}
    type="linear"
    stroke={color}
    strokeWidth={1}
    dot={{ r: 1, fill: color, stroke: color, strokeWidth: 0.5 }}
    isAnimationActive={false}
  />
);

export default function App() {
  const txt = { fontFamily: FONT, fill: '#000' };
  return (
    <div style={{ position: 'absolute', left: 0, top: 0, width: 740, height: 700, background: '#fff', overflow: 'hidden' }}>
      <LineChart width={740} height={700} data={rows} margin={{ top: 0, right: 0, bottom: 70, left: 0 }}>
        <XAxis
          dataKey="t"
          type="number"
          domain={[0, 360]}
          ticks={DAY_TICKS}
          tick={<DayTick />}
          tickLine={false}
          axisLine={{ stroke: '#606060' }}
          height={30}
          interval={0}
        />
        <YAxis yAxisId="l" orientation="left" width={50} domain={[-52.61, 33.04]} ticks={LEFT_TICKS} tick={<LeftTick />} axisLine={false} tickLine={false} interval={0} />
        <YAxis yAxisId="r" orientation="right" width={50} domain={[-7.61, 78.04]} ticks={RIGHT_TICKS} tick={<RightTick />} axisLine={false} tickLine={false} interval={0} />

        {DAY_TICKS.map((d) => (
          <ReferenceLine key={`v${d}`} yAxisId="l" x={d} stroke="#c0c0c0" strokeWidth={1} />
        ))}
        {LEFT_TICKS.filter((v) => v !== 0).map((v) => (
          <ReferenceLine key={`h${v}`} yAxisId="l" y={v} stroke="#c0c0c0" strokeWidth={v % 10 === 0 ? 2.2 : 1} />
        ))}
        <ReferenceLine yAxisId="l" y={0.15} stroke="#8c8c8c" strokeWidth={1} />
        <ReferenceLine yAxisId="l" y={-0.15} stroke="#a8a8a8" strokeWidth={1} />

        {PRECIP_MEMBERS.map((_, k) => memberLine(`p${k}`, PRECIP_COLORS[k], 'r'))}
        {T500_MEMBERS.map((_, k) => memberLine(`b${k}`, T500_COLORS[k], 'l'))}
        {T850_MEMBERS.map((_, k) => memberLine(`a${k}`, T850_COLORS[k], 'l'))}

        <Line yAxisId="r" dataKey="p_ctrl" stroke="#0000ff" strokeWidth={3} dot={false} isAnimationActive={false} />
        <Line yAxisId="l" dataKey="b_ctrl" stroke="#0000ff" strokeWidth={3} dot={false} isAnimationActive={false} />
        <Line yAxisId="l" dataKey="a_ctrl" stroke="#0000ff" strokeWidth={3} dot={false} isAnimationActive={false} />
        <Line yAxisId="r" dataKey="p_cep" stroke="#000000" strokeWidth={3} dot={false} isAnimationActive={false} />
        <Line yAxisId="l" dataKey="b_cep" stroke="#000000" strokeWidth={3} dot={false} isAnimationActive={false} />
        <Line yAxisId="l" dataKey="a_cep" stroke="#000000" strokeWidth={3} dot={false} isAnimationActive={false} />
        <Line yAxisId="r" dataKey="p_mean" stroke="#ff0000" strokeWidth={4} dot={false} isAnimationActive={false} />
        <Line yAxisId="l" dataKey="b_mean" stroke="#ff0000" strokeWidth={4} dot={false} isAnimationActive={false} />
        <Line yAxisId="l" dataKey="a_mean" stroke="#ff0000" strokeWidth={4} dot={false} isAnimationActive={false} />
      </LineChart>

      <svg width={740} height={700} style={{ position: 'absolute', left: 0, top: 0, pointerEvents: 'none' }}>
        <text x={60} y={79} dominantBaseline="central" fontSize={10} {...txt}>Temp. 850hPa</text>
        <text x={60} y={294} dominantBaseline="central" fontSize={10} {...txt}>Temp. 500hPa</text>
        <text x={59} y={361} dominantBaseline="central" fontSize={10} {...txt}>Précipitations</text>
        <text x={20} y={607} dominantBaseline="central" fontSize={10} {...txt}>(°C)</text>
        <text x={710} y={606} dominantBaseline="central" fontSize={10} {...txt}>(mm)</text>

        <rect x={35} y={634.5} width={31} height={4} fill="#ff0000" />
        <text x={75} y={637.5} dominantBaseline="central" fontSize={10} {...txt}>Moyenne des scénarios</text>
        <rect x={225} y={635} width={31} height={4} fill="#0000ff" />
        <text x={265} y={637.5} dominantBaseline="central" fontSize={10} {...txt}>Run de contrôle</text>
        <rect x={225} y={645} width={31} height={4} fill="#000000" />
        <text x={265} y={647} dominantBaseline="central" fontSize={10} {...txt}>Run CEP/ECMWF</text>
        <text x={369.5} y={652} dominantBaseline="central" fontSize={10} {...txt}>50 Perts.</text>

        {PERT_TOP.map((c, k) => (
          <g key={`pt${k}`}>
            <text x={435.5 + k * 11.1} y={639.5} textAnchor="middle" dominantBaseline="central" fontSize={8} {...txt}>
              {String(k + 1).padStart(2, '0')}
            </text>
            <rect x={430.5 + k * 11.1} y={645} width={10} height={6} fill={c} />
            <rect x={430.5 + k * 11.1} y={651} width={10} height={6} fill={PERT_BOTTOM[k]} />
            <text x={435.5 + k * 11.1} y={662} textAnchor="middle" dominantBaseline="central" fontSize={8} {...txt}>
              {String(k + 26)}
            </text>
          </g>
        ))}

        <rect x={20.5} y={667.5} width={420} height={40} fill="none" stroke="#000" strokeWidth={1} />
        <text x={30} y={677} dominantBaseline="central" fontSize={11.5} fontWeight="bold" {...txt}>
          Diagramme ensembles ECMWF/CEP 0.4° sur 360h pour Bourgoin-Jallieu
        </text>
        <text x={30} y={691.5} dominantBaseline="central" fontSize={10} {...txt}>
          Températures 850hPa et 500hPa (°C) , précipitations (mm)
        </text>
        <text x={450.5} y={674.5} dominantBaseline="central" fontSize={10} {...txt}>
          Ensemble ECMWF/CEP du 24/07/2023 - 00Z
        </text>
        <text x={450} y={691.5} dominantBaseline="central" fontSize={11.5} fontWeight="bold" {...txt}>
          Copyright 2023 Meteociel.fr - ECMWF
        </text>
      </svg>
    </div>
  );
}
